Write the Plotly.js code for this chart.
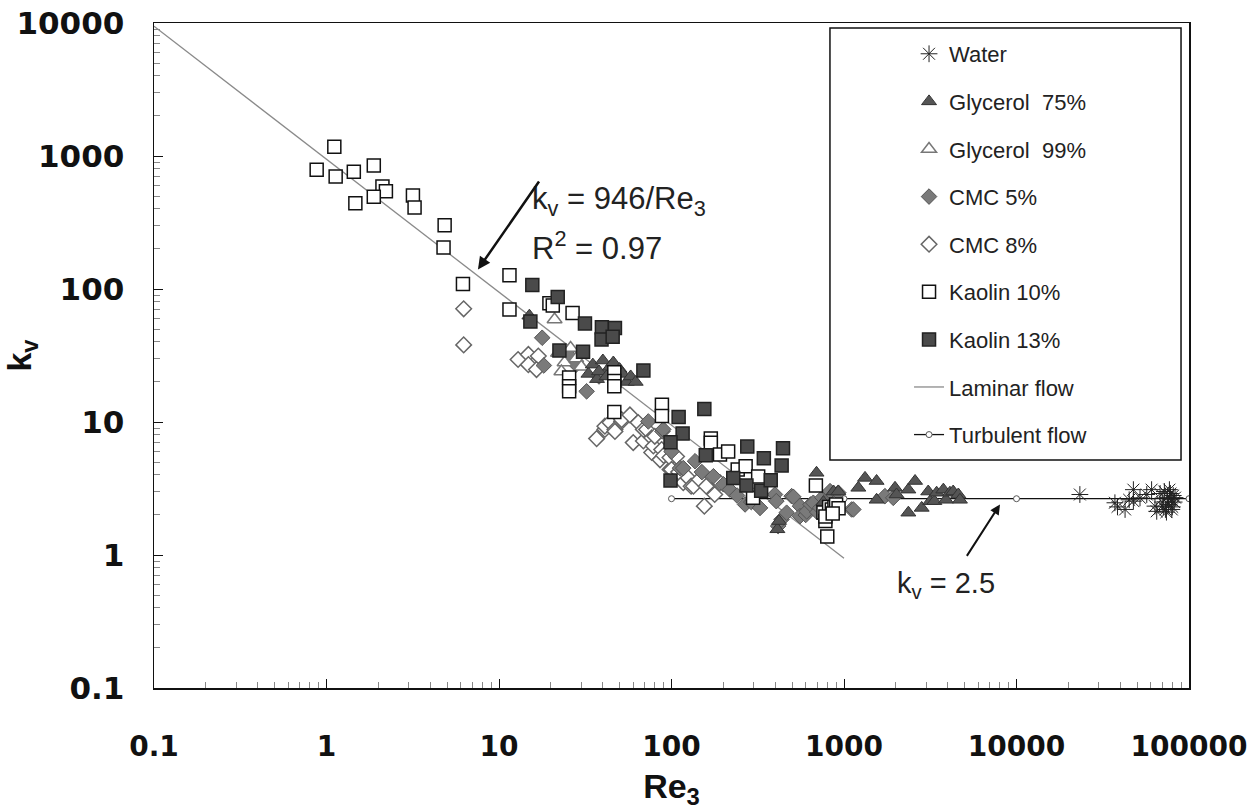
<!DOCTYPE html>
<html>
<head>
<meta charset="utf-8">
<script src="https://cdn.plot.ly/plotly-3.0.1.min.js"></script>
<style>html,body{margin:0;padding:0;background:#fff;}#chart{width:1252px;height:811px;}</style>
</head>
<body>
<div id="chart"></div>
<script>
// ---- data ----
const waterRe = [23300, 37200, 38500, 42600, 45000, 47600, 47600, 52000, 56900, 60700, 63500, 65000, 68000, 70000, 72000, 73000, 75000, 76000, 78000, 79000, 80000, 81000, 82000, 77000, 74000, 83000, 71000, 79500];
const waterKv = [2.85, 2.47, 2.3, 2.2, 2.6, 3.1, 2.54, 2.69, 2.85, 3.1, 2.33, 2.13, 2.9, 2.5, 3.0, 2.2, 2.7, 2.4, 2.9, 2.6, 2.3, 2.8, 2.5, 3.1, 2.1, 2.7, 2.3, 2.2];

const gly75Re = [15, 33, 35, 37, 38, 40, 42, 44, 46, 47, 50, 52, 55, 58, 62, 411, 420, 693, 760, 850, 870, 927, 1211, 1324, 1545, 1545, 1976, 2017, 2361, 2361, 2582, 2820, 3078, 3162, 3340, 3444, 3767, 3900, 4111, 4295, 4600, 4700];
const gly75Kv = [63, 23, 27, 21, 24, 29, 22, 26, 28, 21, 25, 23, 20, 22, 20, 1.56, 1.8, 4.15, 2.5, 2.3, 3.0, 3.0, 3.2, 3.8, 3.6, 2.6, 3.2, 2.85, 2.08, 3.1, 3.6, 2.26, 3.0, 2.54, 2.54, 2.94, 3.1, 2.6, 2.94, 3.0, 2.85, 2.6];

const gly99Re = [21, 22, 24, 26, 28, 23, 30];
const gly99Kv = [59, 33, 28, 36, 30, 24, 26];

const cmc5Re = [17.8, 18.2, 25.7, 32.2, 28, 38, 45, 73.4, 88.6, 89.6, 100, 112, 117, 137, 150, 175, 200, 218, 240, 267, 290, 326, 398, 405, 415, 434, 465, 497, 508, 556, 556, 600, 608, 640, 664, 700, 727, 750, 830, 830, 927, 1107, 1133, 1726, 1930];
const cmc5Kv = [43, 26.6, 31.2, 17, 27, 22, 24, 10.1, 8.5, 8.8, 6.0, 4.5, 4.5, 5.07, 4.2, 3.91, 3.4, 3.1, 2.8, 2.4, 2.5, 2.26, 2.85, 2.54, 1.65, 1.85, 2.08, 2.77, 2.74, 2.33, 1.96, 2.0, 2.13, 2.4, 2.47, 2.1, 2.26, 2.7, 2.94, 3.02, 2.94, 2.2, 2.2, 2.77, 2.69];

const cmc8Re = [6.24, 6.24, 12.9, 14.8, 16.9, 14.8, 16.5, 36.8, 41.1, 41.1, 44, 47, 47, 51.4, 51.4, 57.4, 60, 64.1, 68.7, 68.7, 71.7, 76.8, 76.8, 78.5, 80, 85.8, 87.7, 90, 98, 98, 100, 107, 110, 117, 125, 130, 134, 145, 155, 159, 178, 191];
const cmc8Kv = [71, 38, 29.5, 32.2, 31.3, 27, 24.8, 7.5, 8.8, 9.3, 9.9, 8.8, 8.5, 10.1, 10.4, 11.3, 7.0, 9.9, 7.2, 8.8, 8.8, 5.9, 7.6, 6.6, 7.8, 5.2, 6.2, 5.6, 4.4, 5.4, 4.4, 5.5, 4.2, 3.5, 3.8, 3.29, 3.29, 3.7, 2.33, 3.29, 2.85, 3.5];

const kao10Re = [1.11, 0.877, 1.13, 1.44, 1.88, 2.11, 2.21, 1.88, 1.47, 3.17, 3.24, 4.84, 4.77, 6.18, 11.5, 11.5, 19.6, 20.5, 26.7, 25.5, 25.5, 25.5, 46.6, 46.6, 46.6, 46.6, 88, 88, 169, 169, 191, 213, 242, 269, 318, 297, 687, 760, 780, 800, 820, 850, 880, 900, 930, 780, 860];
const kao10Kv = [1175, 788, 701, 761, 849, 590, 544, 493, 441, 505, 410, 302, 205, 109, 127, 70, 78, 75, 66, 21.6, 18.6, 17, 23.7, 20.3, 18.6, 11.9, 13.5, 11.1, 7.5, 6.98, 5.7, 6.0, 4.4, 4.65, 3.9, 2.69, 3.33, 2.09, 1.8, 1.38, 2.3, 2.2, 2.3, 2.4, 2.25, 1.95, 2.05];

const kao13Re = [15.6, 21.9, 15.2, 31.5, 39.5, 47, 39.3, 45.6, 22.4, 30.7, 68.7, 110, 116, 98.7, 98.7, 155, 158, 275, 443, 343, 435, 228, 272, 331, 376];
const kao13Kv = [107, 87, 57, 55, 51.6, 51, 41.7, 43.7, 34.5, 33.7, 24.4, 10.9, 8.2, 7.05, 3.63, 12.5, 5.63, 6.54, 6.35, 5.35, 4.71, 3.8, 3.33, 3.04, 3.65];

// k_v = 946/Re3 fit line end points, and k_v turbulent line
const lamRe = [0.1, 1000];
const lamKv = [9460, 0.946];
const turbRe = [100, 1000, 10000, 100000];
const turbKv = [2.65, 2.65, 2.65, 2.65];

const xTicks = [0.1, 1, 10, 100, 1000, 10000, 100000];
const xTickText = ['0.1', '1', '10', '100', '1000', '10000', '100000'];
const yTicks = [0.1, 1, 10, 100, 1000, 10000];
const yTickText = ['0.1', '1', '10', '100', '1000', '10000'];

const FONT = 'Liberation Sans, Arial, Helvetica, sans-serif';
const TICKFONT = 'DejaVu Sans, Liberation Sans, sans-serif';

function sc(name, x, y, marker, rank) {
  return {type: 'scatter', mode: 'markers', name: name, x: x, y: y, marker: marker,
          legendrank: rank, legendgroup: name};
}

const traces = [
  {type: 'scatter', mode: 'lines', name: 'Laminar flow', x: lamRe, y: lamKv,
   line: {color: '#8a8a8a', width: 1.3}, legendrank: 8, legendgroup: 'lam'},
  {type: 'scatter', mode: 'lines+markers', name: 'Turbulent flow', x: turbRe, y: turbKv,
   line: {color: '#111', width: 1.3},
   marker: {symbol: 'circle', size: 6, color: 'white', line: {color: '#555', width: 1}},
   legendrank: 9, legendgroup: 'turb'},
  sc('CMC 8%', cmc8Re, cmc8Kv, {symbol: 'diamond', size: 12, color: 'white', line: {color: '#666', width: 1.5}}, 5),
  sc('CMC 5%', cmc5Re, cmc5Kv, {symbol: 'diamond', size: 12, color: '#7a7a7a', line: {color: '#555', width: 1}}, 4),
  sc('Glycerol  99%', gly99Re, gly99Kv, {symbol: 'triangle-up', size: 13, color: 'white', line: {color: '#777', width: 1.5}}, 3),
  sc('Glycerol  75%', gly75Re, gly75Kv, {symbol: 'triangle-up', size: 13, color: '#555', line: {color: '#333', width: 1}}, 2),
  sc('Kaolin 10%', kao10Re, kao10Kv, {symbol: 'square', size: 13, color: 'white', line: {color: '#111', width: 1.5}}, 6),
  sc('Kaolin 13%', kao13Re, kao13Kv, {symbol: 'square', size: 13, color: '#4a4a4a', line: {color: '#222', width: 1.5}}, 7),
  sc('Water', waterRe, waterKv, {symbol: 'asterisk-open', size: 14, color: '#222', line: {color: '#222', width: 1}}, 1)
];

const L = Math.log10;
const layout = {
  width: 1252, height: 811,
  margin: {l: 154, r: 63, t: 23, b: 123},
  paper_bgcolor: 'white', plot_bgcolor: 'white',
  font: {family: FONT, color: '#111'},
  showlegend: true,
  legend: {x: 0.7295, y: 0.985, xanchor: 'left', yanchor: 'top',
           bgcolor: 'rgba(0,0,0,0)', borderwidth: 0,
           font: {family: FONT, size: 22, color: '#222'},
           tracegroupgap: 16, itemsizing: 'trace'},
  xaxis: {type: 'log', range: [-1, 5], showgrid: false, zeroline: false,
          showline: true, mirror: true, linecolor: '#111', linewidth: 1.5,
          ticks: 'inside', ticklen: 9, tickcolor: '#111', tickwidth: 1,
          tickvals: xTicks, ticktext: xTickText, ticklabelstandoff: 33,
          ticklabeloverflow: 'allow',
          tickfont: {family: TICKFONT, size: 28, weight: 'bold', color: '#111'},
          minor: {ticks: 'inside', ticklen: 6, tickcolor: '#888', dtick: 'D1', showgrid: false},
          title: {text: 'Re<sub>3</sub>', standoff: 12,
                  font: {family: FONT, size: 34, weight: 'bold', color: '#111'}}},
  yaxis: {type: 'log', range: [-1, 4], showgrid: false, zeroline: false,
          showline: true, mirror: true, linecolor: '#111', linewidth: 1.5,
          ticks: 'inside', ticklen: 9, tickcolor: '#111', tickwidth: 1,
          tickvals: yTicks, ticktext: yTickText, ticklabelstandoff: 22,
          tickfont: {family: TICKFONT, size: 31, weight: 'bold', color: '#111'},
          minor: {ticks: 'inside', ticklen: 6, tickcolor: '#888', dtick: 'D1', showgrid: false},
          title: {text: 'k<sub>v</sub>', standoff: 12,
                  font: {family: FONT, size: 34, weight: 'bold', color: '#111'}}},
  shapes: [
    {type: 'rect', xref: 'paper', yref: 'paper', x0: 0.6531, x1: 0.9923, y0: 0.3429, y1: 0.9925,
     line: {color: '#111', width: 1.5}, fillcolor: 'rgba(0,0,0,0)', layer: 'below'}
  ],
  annotations: [
    {x: L(15.1), y: L(455), xanchor: 'left', yanchor: 'middle', showarrow: false,
     text: 'k<sub>v</sub> = 946/Re<sub>3</sub>', font: {family: FONT, size: 31, color: '#222'}},
    {x: L(15.1), y: L(210), xanchor: 'left', yanchor: 'middle', showarrow: false,
     text: 'R<sup>2</sup> = 0.97', font: {family: FONT, size: 31, color: '#222'}},
    {x: L(7.55), y: L(140), ax: L(17.3), ay: L(660), axref: 'x', ayref: 'y', text: '',
     showarrow: true, arrowhead: 2, arrowsize: 1, arrowwidth: 2.5, arrowcolor: '#111'},
    {x: L(1977), y: L(0.6), xanchor: 'left', yanchor: 'middle', showarrow: false,
     text: 'k<sub>v</sub> = 2.5', font: {family: FONT, size: 29, color: '#222'}},
    {x: L(8020), y: L(2.4), ax: L(5090), ay: L(0.96), axref: 'x', ayref: 'y', text: '',
     showarrow: true, arrowhead: 2, arrowsize: 1, arrowwidth: 2, arrowcolor: '#111'}
  ]
};

Plotly.newPlot('chart', traces, layout, {staticPlot: true, displayModeBar: false});
</script>
</body>
</html>
